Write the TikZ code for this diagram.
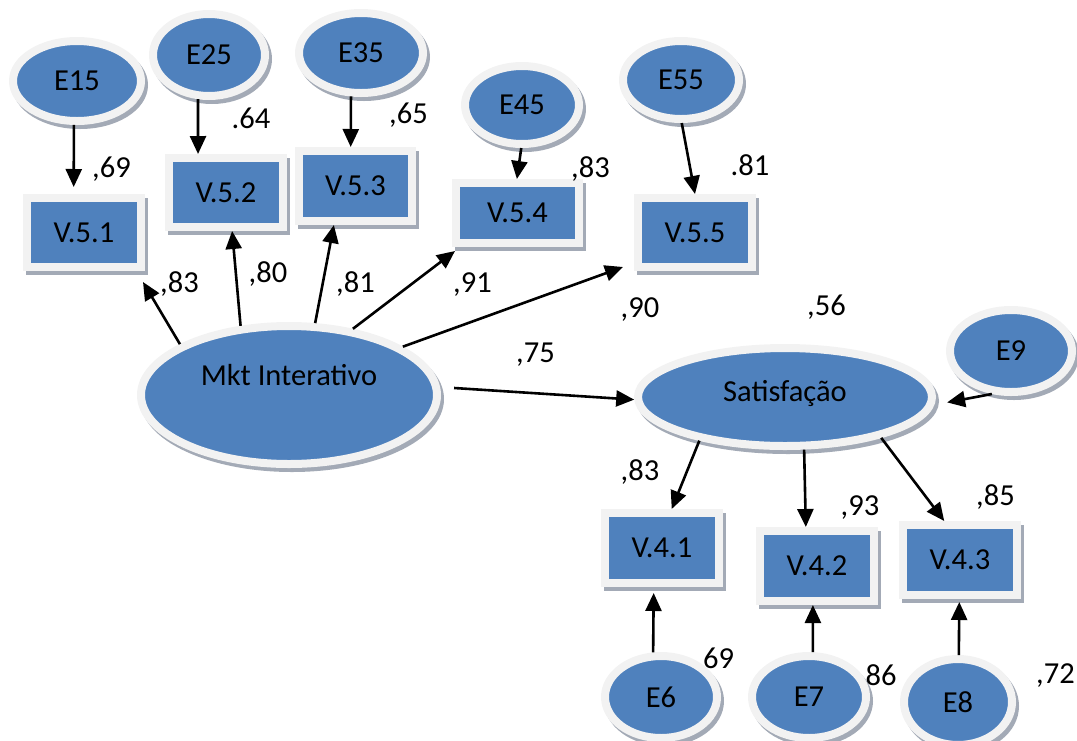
\documentclass[tikz,border=0pt]{standalone}
\usepackage{fontspec}
\setmainfont{Carlito}
\usetikzlibrary{arrows.meta,shapes.geometric}
\definecolor{fillblue}{HTML}{4F81BD}
\definecolor{ringgrey}{HTML}{F2F2F2}
\definecolor{shadowgrey}{HTML}{A3AAB6}

\tikzset{
  shapebase/.style={fill=fillblue, draw=ringgrey, line width=8pt, inner sep=0pt, outer sep=4pt,
    font=\fontsize{30.5}{32}\selectfont, text=black,
    preaction={fill=shadowgrey, draw=shadowgrey, line width=8pt,
               transform canvas={xshift=3pt,yshift=-4pt}}},
  latent/.style={shapebase, ellipse},
  observed/.style={shapebase, rectangle},
  link/.style={line width=2.6pt, -{Triangle[length=18pt,width=16pt]}},
  coef/.style={font=\fontsize{30.5}{32}\selectfont, anchor=base, inner sep=0pt},
}

\begin{document}
\begin{tikzpicture}[x=1pt,y=-1pt]
\useasboundingbox (0,0) rectangle (1077,740);

% error terms
\node[latent, minimum width=128pt, minimum height=80pt] (e15) at (77,81) {E15};
\node[latent, minimum width=112pt, minimum height=82pt] (e25) at (209,55) {E25};
\node[latent, minimum width=124pt, minimum height=80pt] (e35) at (361,53) {E35};
\node[latent, minimum width=114pt, minimum height=78pt] (e45) at (522,105) {E45};
\node[latent, minimum width=116pt, minimum height=78pt] (e55) at (681,80) {E55};
\node[latent, minimum width=122pt, minimum height=82pt] (e9) at (1011,351) {E9};
\node[latent, minimum width=112pt, minimum height=82pt] (e6) at (661,697) {E6};
\node[latent, minimum width=114pt, minimum height=82pt] (e7) at (809,697) {E7};
\node[latent, minimum width=108pt, minimum height=86pt] (e8) at (958,702) {E8};

% latent constructs
\node[latent, minimum width=296pt, minimum height=138pt] (mkt) at (289,395) {\raisebox{10pt}[0pt][0pt]{Mkt Interativo}};
\node[latent, minimum width=294pt, minimum height=98pt] (sat) at (785,397) {\raisebox{-4pt}[0pt][0pt]{Satisfação}};

% indicators
\node[observed, minimum width=114pt, minimum height=69pt] (v51) at (84,232.5) {V.5.1\hspace{8pt}};
\node[observed, minimum width=114pt, minimum height=69pt] (v52) at (226,192.5) {V.5.2\hspace{6pt}};
\node[observed, minimum width=113pt, minimum height=70pt] (v53) at (355.5,186) {V.5.3};
\node[observed, minimum width=123pt, minimum height=60pt] (v54) at (517.5,213) {V.5.4\hspace{14pt}};
\node[observed, minimum width=114pt, minimum height=69pt] (v55) at (695,232.5) {V.5.5};
\node[observed, minimum width=114pt, minimum height=70pt] (v41) at (662,548) {V.4.1};
\node[observed, minimum width=114pt, minimum height=70pt] (v42) at (817,566) {V.4.2};
\node[observed, minimum width=114pt, minimum height=70pt] (v43) at (960,560) {V.4.3};

% error paths
\draw[link, shorten >=7pt] (e15.266) -- (v51.105);
\draw[link] (e25.256) -- (v52.126);
\draw[link] (e35.257) -- (v53.97);
\draw[link] (e45.269) -- (v54.91);
\draw[link] (e55.271) -- (v55.90);
\draw[link, shorten >=13pt] (e9.246) -- (sat.357);
\draw[link, shorten >=6pt] (e6.100) -- (v41.258);
\draw[link] (e7.85) -- (v42.264);
\draw[link, shorten >=3pt] (e8.89) -- (v43.269);

% loadings
\draw[link] (mkt.155) -- ([xshift=-2pt,yshift=-11pt]v51.south east);
\draw[link] (mkt.125) -- (v52.279);
\draw[link] (mkt.70) -- (v53.241);
\draw[link] (mkt.46) -- ([xshift=3pt,yshift=-4pt]v54.south west);
\draw[link] (mkt.23) -- ([xshift=-11pt,yshift=4pt]v55.south west);
\draw[link] (sat.207) -- (v41.76);
\draw[link] (sat.290) -- (v42.106);
\draw[link] (sat.337) -- (v43.112);

% structural path
\draw[link, shorten <=14pt] (mkt.3) -- (sat.181);

% coefficients
\node[coef] (c69) at (111.5,177) {,69};
\node[coef] (c64) at (251,128) {.64};
\node[coef] (c65) at (408.5,123) {,65};
\node[coef] (c83a) at (590.5,177) {,83};
\node[coef] (c81a) at (750,175) {.81};
\node[coef] (c83b) at (179.5,292) {,83};
\node[coef] (c80) at (268,282) {,80};
\node[coef] (c81b) at (355.5,292) {,81};
\node[coef] (c91) at (472.5,292) {,91};
\node[coef] (c75) at (535.5,362) {,75};
\node[coef] (c90) at (640,317) {,90};
\node[coef] (c56) at (826.5,315) {,56};
\node[coef] (c83c) at (640,480) {,83};
\node[coef] (c93) at (860,515) {,93};
\node[coef] (c85) at (995.5,505) {,85};
\node[coef] (r69) at (718.5,668) {69};
\node[coef] (r86) at (881,685) {86};
\node[coef] (c72) at (1055.5,683) {,72};
\end{tikzpicture}
\end{document}
